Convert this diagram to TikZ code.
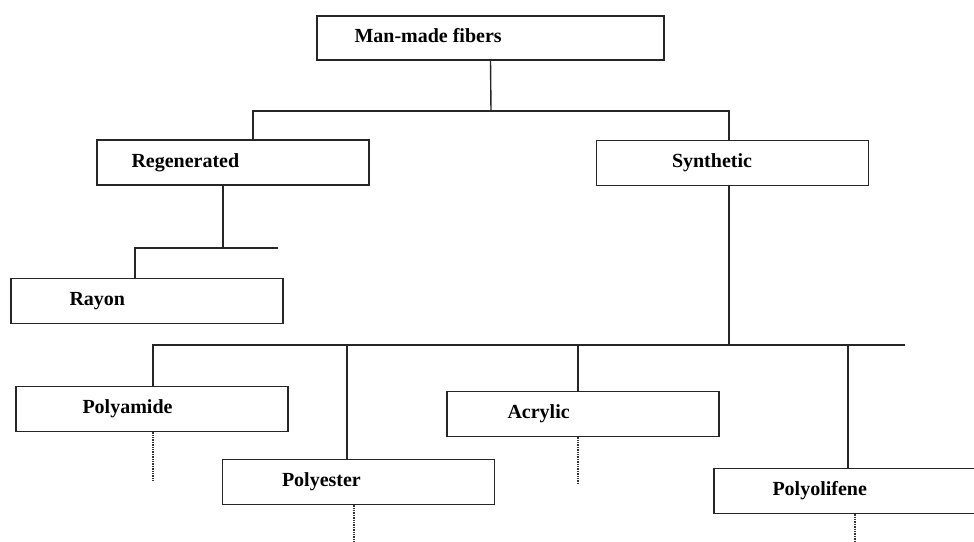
\documentclass[tikz,border=0pt]{standalone}
\usepackage{fontspec}
\setmainfont{Liberation Serif}
\usetikzlibrary{positioning}

\begin{document}
\begin{tikzpicture}[x=1pt, y=-1pt,
    fbox/.style={draw=black!85, line width=1.4pt, minimum width=272pt,
      minimum height=45pt, inner sep=0pt},
    lbl/.style={anchor=west, inner sep=0pt, yshift=-2pt, font=\bfseries\fontsize{20}{20}\selectfont,
      text height=1.45ex, text depth=.3ex},
    wire/.style={draw=black!85, line width=1.4pt},
    tail/.style={draw=black!80, line width=1.4pt, densely dotted}]
      \useasboundingbox (0, 0) rectangle (974, 541);
      \clip (0, 0) rectangle (974, 541);

      \node [fbox, minimum width=347pt, minimum height=44pt] (mmf) at (490.5, 38) {};
      \node [fbox] (regen) at (233, 162.5) {};
      \node [fbox] (synth) at (732.5, 163) {};
      \node [fbox] (rayon) at (147, 301) {};
      \node [fbox] (pamide) at (152, 409) {};
      \node [fbox] (acryl) at (583, 414) {};
      \node [fbox] (pester) at (358.5, 482) {};
      \node [fbox] (polyol) at (850, 491) {};

      \node [lbl, right=38pt of mmf.west] (mmf-t) {Man-made fibers};
      \node [lbl, right=35pt of regen.west] (regen-t) {Regenerated};
      \node [lbl, right=76pt of synth.west] (synth-t) {Synthetic};
      \node [lbl, right=59pt of rayon.west] (rayon-t) {Rayon};
      \node [lbl, right=67pt of pamide.west] (pamide-t) {Polyamide};
      \node [lbl, right=61pt of acryl.west] (acryl-t) {Acrylic};
      \node [lbl, right=60pt of pester.west] (pester-t) {Polyester};
      \node [lbl, right=59pt of polyol.west] (polyol-t) {Polyolifene};

      \coordinate (top) at (491, 111);
      \coordinate (reg) at (223, 248);
      \coordinate (syn) at (729, 345);

      \draw [wire] (mmf.south) -- (top);
      \draw [wire] ([xshift=20pt]regen.north) |- (top);
      \draw [wire] ([xshift=-3.5pt]synth.north) |- (top);

      \draw [wire] ([xshift=-10pt]regen.south) -- (reg);
      \draw [wire] ([xshift=-12pt]rayon.north) |- (reg) -- ++(55, 0);

      \draw [wire] ([xshift=-3.5pt]synth.south) -- (syn);
      \draw [wire] ([xshift=1pt]pamide.north) |- (syn) -- ++(176, 0);
      \draw [wire] ([xshift=-11.5pt]pester.north) |- (syn);
      \draw [wire] ([xshift=-5pt]acryl.north) |- (syn);
      \draw [wire] ([xshift=-2pt]polyol.north) |- (syn);

      \foreach \n/\dx/\len in {pamide/1/49, acryl/-5/46, pester/-4.5/40, polyol/5/30} {
        \draw [tail] ([xshift=\dx pt]\n.south) -- ++(0, \len);
      }
    \end{tikzpicture}
\end{document}
